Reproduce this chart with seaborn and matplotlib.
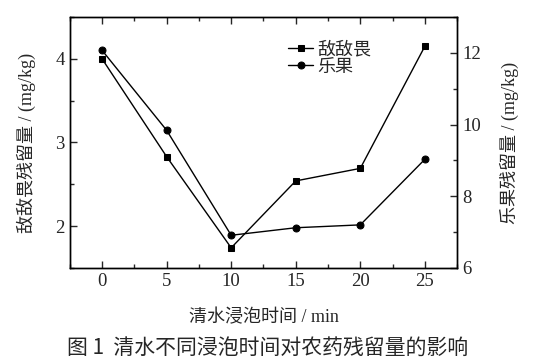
import matplotlib
matplotlib.use("Agg")
import matplotlib.pyplot as plt
import seaborn as sns
from matplotlib.ticker import MultipleLocator

sns.set_style("ticks")
plt.rcParams['font.family'] = ['Liberation Serif', 'Noto Sans CJK SC']
plt.rcParams['axes.unicode_minus'] = False

# 浸泡时间 (min)
times = [0, 5, 10, 15, 20, 25]
# 敌敌畏残留量 (mg/kg), left axis
ddv = [4.0, 2.83, 1.74, 2.54, 2.69, 4.15]
# 乐果残留量 (mg/kg), right axis
leguo = [12.07, 9.84, 6.91, 7.12, 7.2, 9.03]

fig = plt.figure(figsize=(5.41, 3.62), dpi=100)
ax = fig.add_axes([0.129, 0.26, 0.716, 0.693])
ax2 = ax.twinx()

sns.lineplot(x=times, y=ddv, ax=ax, color="black", marker="s", markersize=5,
             markeredgecolor="black", linewidth=1, label="敌敌畏", legend=False)
sns.lineplot(x=times, y=leguo, ax=ax2, color="black", marker="o", markersize=5,
             markeredgecolor="black", linewidth=1, label="乐果", legend=False)

ax.set_xlim(-2.5, 27.5)
ax.set_ylim(1.5, 4.5)
ax2.set_ylim(6, 13)
ax.set_xticks(times)
ax.set_yticks([2, 3, 4])
ax2.set_yticks([6, 8, 10, 12])
ax.xaxis.set_minor_locator(MultipleLocator(2.5))
ax.yaxis.set_minor_locator(MultipleLocator(0.5))
ax2.yaxis.set_minor_locator(MultipleLocator(1))

ax.tick_params(which="both", direction="in", top=True, right=False, labelsize=13.5)
ax.tick_params(which="major", length=5, width=1)
ax.tick_params(which="minor", length=3, width=1)
ax2.tick_params(which="both", direction="in", labelsize=13.5)
ax2.tick_params(which="major", length=5, width=1)
ax2.tick_params(which="minor", length=3, width=1)
for a in (ax, ax2):
    for s in a.spines.values():
        s.set_linewidth(1)
        s.set_color("black")

ax.set_xlabel("清水浸泡时间 / min", fontsize=13, labelpad=14)
ax.set_ylabel("敌敌畏残留量 / (mg/kg)", fontsize=13, labelpad=14)
ax2.set_ylabel("乐果残留量 / (mg/kg)", fontsize=13, labelpad=14, rotation=90)

h1, l1 = ax.get_legend_handles_labels()
h2, l2 = ax2.get_legend_handles_labels()
ax2.legend(h1 + h2, l1 + l2, loc="upper left", bbox_to_anchor=(0.545, 0.93),
           frameon=False, fontsize=13, handlelength=1.4, handletextpad=0.2,
           labelspacing=0.0, borderaxespad=0)

fig.text(0.495, 0.038, "图 1  清水不同浸泡时间对农药残留量的影响", ha="center",
         va="center", fontsize=15, fontweight="medium",
         family=["Noto Sans CJK SC", "DejaVu Sans"])

fig.savefig("out.png", dpi=100)
